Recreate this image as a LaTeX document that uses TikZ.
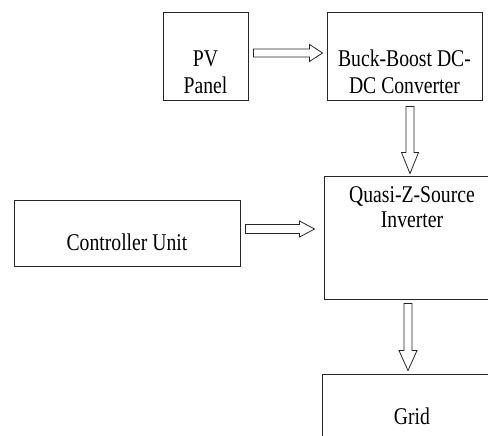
\documentclass[tikz,border=0pt]{standalone}
\usepackage{fontspec}
\setmainfont{Liberation Serif}[FakeStretch=0.82]
\usetikzlibrary{calc}
\tikzset{
  blk/.style={draw=black!85, line width=0.9pt, rectangle, inner sep=0pt},
  lbl/.style={anchor=base, inner sep=0pt, font=\fontsize{24pt}{26pt}\selectfont},
  harrow/.style={draw=black!85, line width=0.8pt, fill=white, line join=miter}
}
\begin{document}
\begin{tikzpicture}[x=1pt,y=1pt]
\useasboundingbox (0,0) rectangle (488,436);
\clip (0,0) rectangle (488,436);
% boxes
\node[blk, minimum width=85pt, minimum height=88pt] (pv) at (205.5,380) {};
\node[blk, minimum width=155pt, minimum height=88pt] (buck) at (404.5,380) {};
\node[blk, minimum width=176pt, minimum height=123pt] (qzsi) at (412,198.5) {};
\node[blk, minimum width=226pt, minimum height=66pt] (ctrl) at (127,203) {};
\node[blk, minimum width=180pt, minimum height=120pt] (grid) at (412,2) {};
% texts
\node[lbl] (pvA) at (205.5,369) {PV};
\node[lbl] (pvB) at (205.5,342.5) {Panel};
\node[lbl] (buckA) at (404.5,369) {Buck-Boost DC-};
\node[lbl] (buckB) at (404.5,342.5) {DC Converter};
\node[lbl] (qzA) at (412,233) {Quasi-Z-Source};
\node[lbl] (qzB) at (412,208) {Inverter};
\node[lbl] (ctA) at (127,185.5) {Controller Unit};
\node[lbl] (grA) at (412,11) {Grid};
% hollow arrows
% PV -> Buck
\draw[harrow] let \p1=(pv.east), \p2=(buck.west) in
  ({\x1+5pt},379pt) -- ({\x2-17pt},379pt) -- ({\x2-17pt},374.5pt) -- ({\x2-4pt},383pt)
  -- ({\x2-17pt},391.5pt) -- ({\x2-17pt},387pt) -- ({\x1+5pt},387pt) -- cycle;
% Buck -> QZSI
\draw[harrow] let \p1=(buck.south), \p2=(qzsi.north) in
  (406pt,{\y1-6pt}) -- (414pt,{\y1-6pt}) -- (414pt,{\y2+23pt}) -- (418.5pt,{\y2+23pt})
  -- (410pt,{\y2+2pt}) -- (401.5pt,{\y2+23pt}) -- (406pt,{\y2+23pt}) -- cycle;
% Controller -> QZSI
\draw[harrow] let \p1=(ctrl.east), \p2=(qzsi.west) in
  ({\x1+5pt},202.5pt) -- ({\x2-24pt},202.5pt) -- ({\x2-24pt},199pt) -- ({\x2-9pt},207pt)
  -- ({\x2-24pt},215pt) -- ({\x2-24pt},211.5pt) -- ({\x1+5pt},211.5pt) -- cycle;
% QZSI -> Grid
\draw[harrow] let \p1=(qzsi.south), \p2=(grid.north) in
  (404pt,{\y1-4pt}) -- (412pt,{\y1-4pt}) -- (412pt,{\y2+23pt}) -- (417pt,{\y2+23pt})
  -- (408pt,{\y2+3pt}) -- (399pt,{\y2+23pt}) -- (404pt,{\y2+23pt}) -- cycle;
\end{tikzpicture}
\end{document}
